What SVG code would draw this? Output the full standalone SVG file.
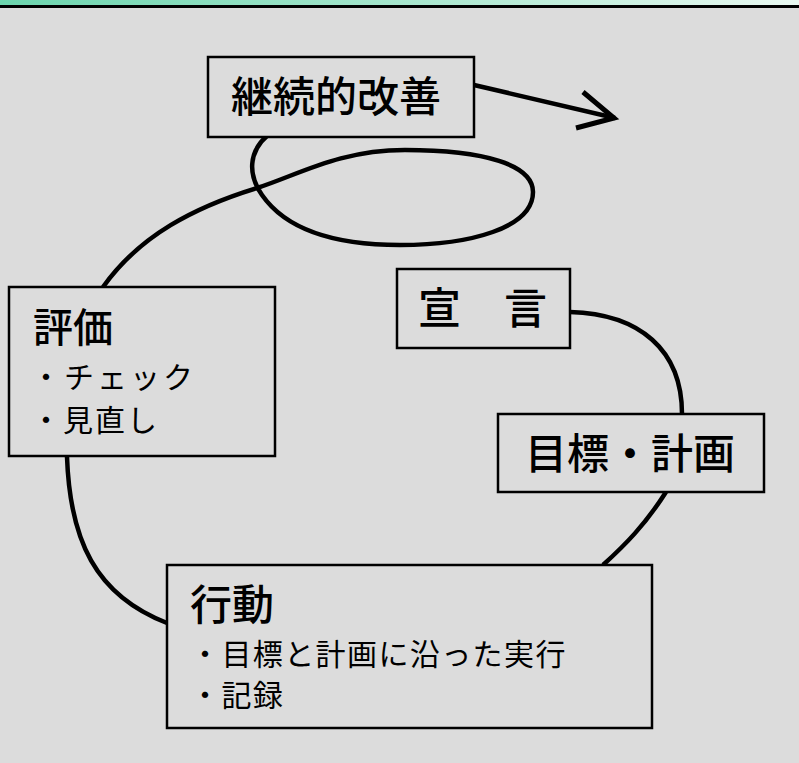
<svg xmlns="http://www.w3.org/2000/svg" width="799" height="763" viewBox="0 0 799 763">
<defs>
<linearGradient id="band" x1="0" y1="0" x2="1" y2="0">
<stop offset="0" stop-color="#6cd5ae"/>
<stop offset="0.5" stop-color="#a6e6cd"/>
<stop offset="1" stop-color="#eaf9f2"/>
</linearGradient>
<style>
.box{fill:#dcdcdc;stroke:#000;stroke-width:2.5}
.con{fill:none;stroke:#000;stroke-width:4.5;stroke-linecap:butt}
.t{font-family:"Noto Sans CJK JP","Noto Sans CJK SC",sans-serif;fill:#000}
.h{font-size:42px;font-weight:500}
.b{font-size:30px}
</style>
</defs>
<rect x="0" y="0" width="799" height="763" fill="#dcdcdc"/>
<rect x="0" y="0" width="799" height="5" fill="url(#band)"/>
<rect x="0" y="5" width="799" height="3" fill="#000"/>
<g id="connectors">
<path class="con" d="M103,287 C140,235 195,207 257,188 C300,174 340,150 405,150 C485,150 533,165 533,192 C533,228 470,245 400,245 C330,245 285,228 262,195 C248,175 248,152 268,135"/>
<path class="con" d="M570,312 C640,314 682,350 682,414"/>
<path class="con" d="M666,492 C645,525 625,545 603,565"/>
<path class="con" d="M67,457 C70,540 95,595 167,623"/>
<path class="con" d="M474,85 L615,118"/>
<path class="con" style="stroke-width:5" d="M583,92 L614,118 L576,128"/>
</g>
<g id="kaizen">
<rect class="box" x="208" y="57" width="266" height="80"/>
<text class="t h" x="231" y="112">継続的改善</text>
</g>
<g id="sengen">
<rect class="box" x="397" y="269" width="173" height="79"/>
<text class="t h" x="418" y="324" style="font-size:43px">宣　言</text>
</g>
<g id="mokuhyo">
<rect class="box" x="498" y="414" width="266" height="78"/>
<text class="t h" x="525" y="469">目標・計画</text>
</g>
<g id="hyoka">
<rect class="box" x="9" y="287" width="266" height="169"/>
<text class="t h" x="33" y="342" style="font-size:40px">評価</text>
<text class="t b" x="31" y="388" letter-spacing="3">・チェック</text>
<text class="t b" x="31" y="431" letter-spacing="2">・見直し</text>
</g>
<g id="kodo">
<rect class="box" x="167" y="565" width="485" height="163"/>
<text class="t h" x="190" y="620">行動</text>
<text class="t b" x="190" y="665" letter-spacing="1.4">・目標と計画に沿った実行</text>
<text class="t b" x="190" y="706" letter-spacing="1.4">・記録</text>
</g>
</svg>
